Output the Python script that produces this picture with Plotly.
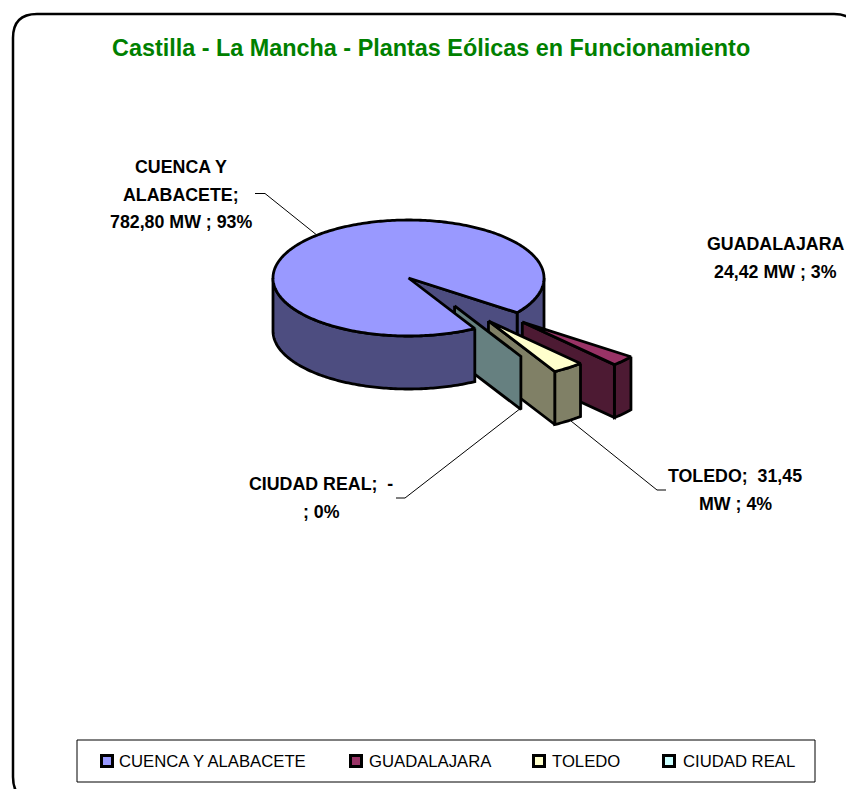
import numpy as np
import plotly.graph_objects as go

# ---- data ----
categories = ["CUENCA Y ALABACETE", "GUADALAJARA", "TOLEDO", "CIUDAD REAL"]
values_mw = [782.80, 24.42, 31.45, 0.0]
label_lines = [
    ["CUENCA Y", "ALABACETE;", "782,80 MW ; 93%"],
    ["GUADALAJARA", "24,42 MW ; 3%"],
    ["TOLEDO;  31,45", "MW ; 4%"],
    ["CIUDAD REAL;  -", "; 0%"],
]
title_text = "Castilla - La Mancha - Plantas Eólicas en Funcionamiento"

# ---- style ----
top_colors = ["#9999FF", "#993366", "#FFFFCC", "#CCFFFF"]
side_colors = ["#4D4D80", "#4D1A33", "#808066", "#668080"]
explode_xy = [(0.0, 0.0), (0.84, 0.76), (0.59, 0.74), (0.34, 0.48)]
CX, CY, RX, RY, DEPTH = 408.5, 278.0, 135.5, 58.0, 53.0
START_DEG = 60.7
FONT = "Liberation Sans"
LW = 2.8

fig = go.Figure()

# slice angles (degrees clockwise from east on screen)
shares = np.array(values_mw) / sum(values_mw)
starts = START_DEG + 360 * np.concatenate([[0], np.cumsum(shares)[:-1]])
ends = starts + 360 * shares


def pt(deg, ox=0.0, oy=0.0, dz=0.0):
    a = np.radians(deg)
    return ox + CX + RX * np.cos(a), oy + CY + RY * np.sin(a) + dz


def arc(a0, a1, ox=0.0, oy=0.0, dz=0.0):
    n = max(2, int(abs(a1 - a0)) + 2)
    return pt(np.linspace(a0, a1, n), ox, oy, dz)


def poly(xs, ys, color, name):
    fig.add_trace(go.Scatter(
        x=list(xs), y=list(ys), mode="lines", fill="toself", fillcolor=color,
        line=dict(color="black", width=LW, simplify=False), name=name, showlegend=False,
        hoverinfo="name"))


def draw_exploded(i):
    ox, oy = RX * explode_xy[i][0], RY * explode_xy[i][1]
    s, e = starts[i], ends[i]
    ax, ay = CX + ox, CY + oy
    px, py = pt(e, ox, oy)
    if e - s > 0:
        ux, uy = arc(s, e, ox, oy)
        lx, ly = arc(e, s, ox, oy, DEPTH)
        poly(np.r_[ux, lx, ux[0]], np.r_[uy, ly, uy[0]], side_colors[i], categories[i])
    poly([ax, px, px, ax, ax], [ay, py, py + DEPTH, ay + DEPTH, ay], side_colors[i], categories[i])
    if e - s > 0:
        tx, ty = arc(s, e, ox, oy)
        poly(np.r_[ax, tx, ax], np.r_[ay, ty, ay], top_colors[i], categories[i])


# Painter's order: back part of the big slice, then the small slices, then its front
s0, e0 = starts[0], ends[0]
ux, uy = arc(360, e0)
lx, ly = arc(e0, 360, 0, 0, DEPTH)
poly(np.r_[ux, lx, ux[0]], np.r_[uy, ly, uy[0]], side_colors[0], categories[0])
ax, ay = pt(e0)
poly([CX, ax, ax, CX, CX], [CY, ay, ay + DEPTH, CY + DEPTH, CY], side_colors[0], categories[0])

for i in [1, 2, 3]:
    draw_exploded(i)

ux, uy = arc(s0, 180)
lx, ly = arc(180, s0, 0, 0, DEPTH)
poly(np.r_[ux, lx, ux[0]], np.r_[uy, ly, uy[0]], side_colors[0], categories[0])
tx, ty = arc(s0, e0)
poly(np.r_[CX, tx, CX], np.r_[CY, ty, CY], top_colors[0], categories[0])

# leader lines
leaders = [
    ([255, 265, 318], [193.5, 193.5, 236]),
    ([396, 405, 521], [498, 498, 408]),
    ([571, 657, 666], [421, 490, 490]),
]
for lxs, lys in leaders:
    fig.add_trace(go.Scatter(x=lxs, y=lys, mode="lines", line=dict(color="black", width=1),
                             showlegend=False, hoverinfo="skip"))

# legend entries
legend_swatch_x = [107, 356, 539, 669]
legend_text_x = [116.5, 367, 550, 681]
for i, c in enumerate(categories):
    fig.add_trace(go.Scatter(
        x=[legend_swatch_x[i]], y=[761], mode="markers",
        marker=dict(symbol="square", size=11, color=top_colors[i], line=dict(color="black", width=3)),
        name=c, showlegend=False, hoverinfo="name"))
    fig.add_annotation(x=legend_text_x[i], y=761, text=c, showarrow=False, xanchor="left",
                       yanchor="middle", font=dict(family=FONT, size=16.7, color="black"))

# data labels, one annotation per line so the line pitch matches
label_pos = [(181, 167), (775.5, 244), (735, 476), (321, 484)]
LINE_PITCH = 27.5
for (x, y), lines in zip(label_pos, label_lines):
    for k, t in enumerate(lines):
        fig.add_annotation(x=x, y=y + k * LINE_PITCH, text="<b>" + t + "</b>", showarrow=False,
                           xanchor="center", yanchor="middle", align="center",
                           font=dict(family=FONT, size=17.8, color="black"))

# title
fig.add_annotation(x=430.5, y=48, text="<b>" + title_text + "</b>", showarrow=False,
                   xanchor="center", yanchor="middle",
                   font=dict(family=FONT, size=23.4, color="#008000"))

# chart frame and legend frame
r = 24
L, T, R, B = 13, 14, 858, 801
frame = (f"M{L+r},{T} L{R-r},{T} Q{R},{T} {R},{T+r} L{R},{B-r} Q{R},{B} {R-r},{B} "
         f"L{L+r},{B} Q{L},{B} {L},{B-r} L{L},{T+r} Q{L},{T} {L+r},{T} Z")
fig.add_shape(type="path", path=frame, xref="x", yref="y", line=dict(color="black", width=2.5), layer="below")
fig.add_shape(type="rect", x0=77, x1=815, y0=740, y1=782, xref="x", yref="y",
              line=dict(color="black", width=1), layer="below")

fig.update_layout(
    width=846, height=789, margin=dict(l=0, r=0, t=0, b=0),
    paper_bgcolor="white", plot_bgcolor="white", showlegend=False,
    xaxis=dict(range=[0, 846], visible=False, fixedrange=True),
    yaxis=dict(range=[789, 0], visible=False, fixedrange=True),
)
fig.write_html("out.html", config={"displayModeBar": False},
               post_script="document.body.style.margin='0';document.body.style.overflow='hidden';")
